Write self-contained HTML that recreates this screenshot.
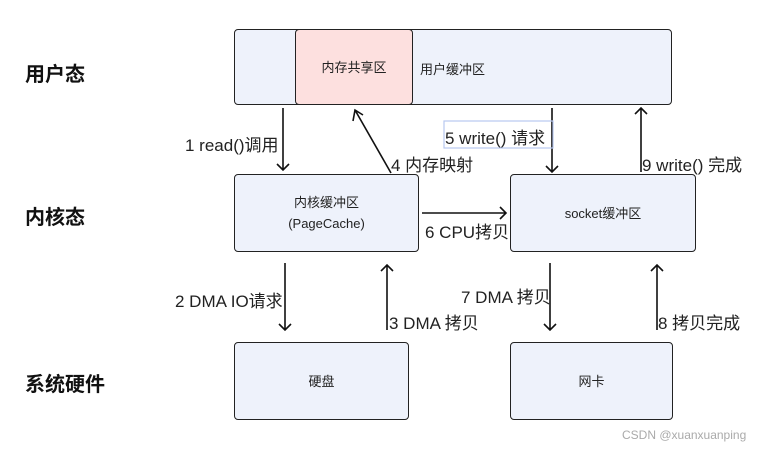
<!DOCTYPE html>
<html><head><meta charset="utf-8"><style>
body{margin:0;width:770px;height:449px;background:#fff;position:relative;overflow:hidden;font-family:"Liberation Sans","Noto Sans CJK SC",sans-serif;}
.b{position:absolute;background:#eef2fb;border:1.5px solid #222;border-radius:4px;box-sizing:border-box;display:flex;align-items:center;justify-content:center;text-align:center;font-size:13px;color:#222;line-height:21px}
.t{position:absolute;font-size:17px;color:#222;white-space:nowrap}
.h{position:absolute;font-size:20px;font-weight:bold;color:#111}
svg{position:absolute;left:0;top:0}
</style></head><body>
<div class="h" style="left:25px;top:58px">用户态</div>
<div class="h" style="left:25px;top:201px">内核态</div>
<div class="h" style="left:25px;top:368px">系统硬件</div>
<div class="b" style="left:234px;top:29px;width:438px;height:76px"></div>
<div class="b" style="left:295px;top:29px;width:118px;height:76px;background:#fde0df">内存共享区</div>
<div class="t" style="left:420px;top:59px;font-size:13px">用户缓冲区</div>
<div class="b" style="left:234px;top:174px;width:185px;height:78px">内核缓冲区<br>(PageCache)</div>
<div class="b" style="left:510px;top:174px;width:186px;height:78px">socket缓冲区</div>
<div class="b" style="left:234px;top:342px;width:175px;height:78px">硬盘</div>
<div class="b" style="left:510px;top:342px;width:163px;height:78px">网卡</div>
<svg width="770" height="449" fill="none" stroke="#111" stroke-width="1.6">
<g>
<path d="M283 108V170M277 164L283 170L289 164"/>
<path d="M391 173L355 110M353 121L355 110L363 115"/>
<path d="M552 108V172M546 166L552 172L558 166"/>
<path d="M641 172V108M635 114L641 108L647 114"/>
<path d="M422 213H506M500 207L506 213L500 219"/>
<path d="M285 263V330M279 324L285 330L291 324"/>
<path d="M387 330V265M381 271L387 265L393 271"/>
<path d="M550 263V330M544 324L550 330L556 324"/>
<path d="M657 330V265M651 271L657 265L663 271"/>
</g>
<rect x="444" y="121" width="109" height="27" stroke="#b8c8f0" stroke-width="1.2"/>
</svg>
<div class="t" style="left:185px;top:131px">1 read()调用</div>
<div class="t" style="left:391px;top:151px">4 内存映射</div>
<div class="t" style="left:445px;top:124px">5 write() 请求</div>
<div class="t" style="left:642px;top:151px">9 write() 完成</div>
<div class="t" style="left:425px;top:218px">6 CPU拷贝</div>
<div class="t" style="left:175px;top:287px">2 DMA IO请求</div>
<div class="t" style="left:389px;top:309px">3 DMA 拷贝</div>
<div class="t" style="left:461px;top:283px">7 DMA 拷贝</div>
<div class="t" style="left:658px;top:309px">8 拷贝完成</div>
<div class="t" style="left:622px;top:428px;font-size:12px;color:#aaa">CSDN @xuanxuanping</div>
</body></html>
